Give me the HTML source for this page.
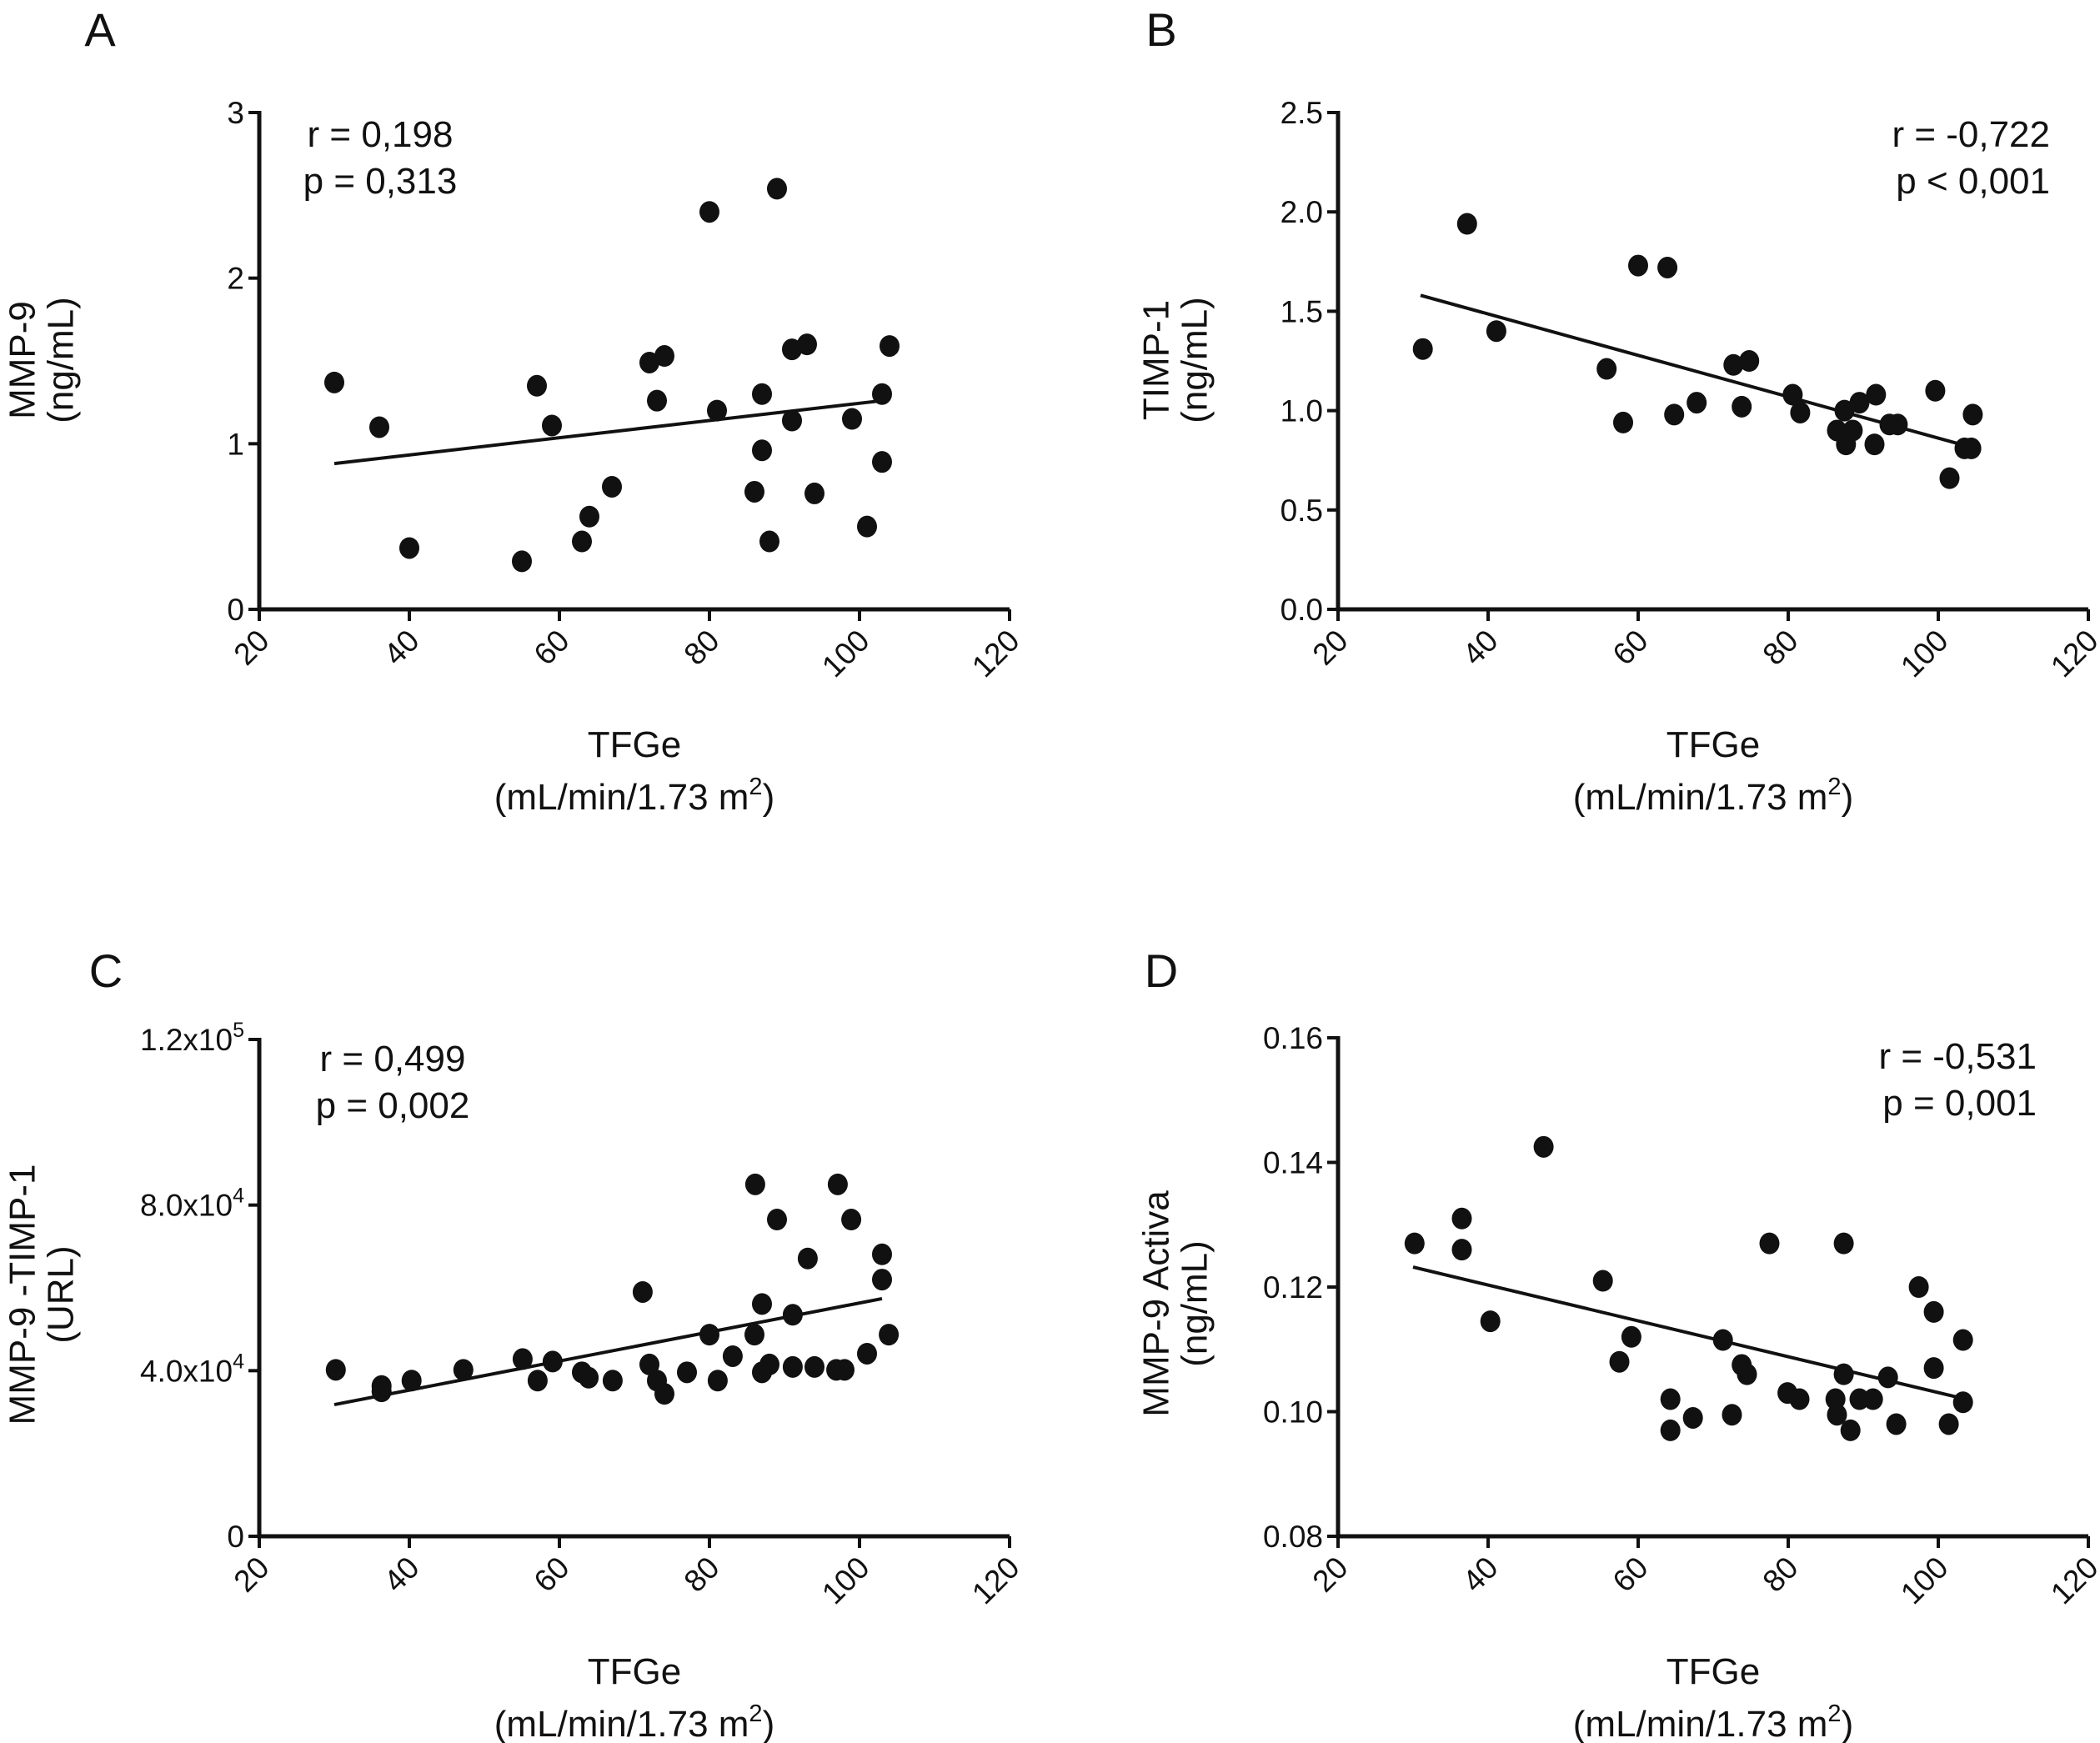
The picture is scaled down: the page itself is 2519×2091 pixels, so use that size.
<!DOCTYPE html>
<html><head><meta charset="utf-8"><style>
html,body{margin:0;padding:0;background:#fff;}
svg{display:block;font-family:"Liberation Sans",sans-serif;}
</style></head><body>
<svg id="fig" width="2519" height="2091" viewBox="0 0 2519 2091"></svg>
<script>
const xA=[30,36,40,55,57,59,63,64,67,72,74,73,80,81,87,87,86,88,89,91,93,91,94,99,101,103,103,104];
const yA=[1.37,1.1,0.37,0.29,1.35,1.11,0.41,0.56,0.74,1.49,1.53,1.26,2.4,1.2,1.3,0.96,0.71,0.41,2.54,1.57,1.6,1.14,0.7,1.15,0.5,1.3,0.89,1.59];
const lineA=[[30,0.88],[103,1.26]];
const xB=[31.3,37.2,41.1,55.8,58,60,63.9,64.8,67.8,72.7,74.8,73.8,80.6,81.6,86.5,87.7,87.5,88.6,89.5,91.7,91.5,93.5,94.6,99.6,101.5,103.5,104.4,104.6];
const yB=[1.31,1.94,1.40,1.21,0.94,1.73,1.72,0.98,1.04,1.23,1.25,1.02,1.08,0.99,0.9,0.83,1.0,0.9,1.04,1.08,0.83,0.93,0.93,1.1,0.66,0.81,0.81,0.98];
const lineB=[[31,1.58],[104,0.82]];
const xC=[30.2,36.3,36.3,40.3,47.2,55.1,57.1,59.1,63,63.9,67.1,71.1,72,73,74,77,80,81.1,83.1,86,86.1,87,87,88,89,91.1,91.1,93.1,94,96.9,97.1,98,98.9,101,103,103,103.9];
const yC=[4.02,3.63,3.5,3.76,4.02,4.28,3.76,4.22,3.96,3.83,3.76,5.9,4.15,3.76,3.44,3.96,4.87,3.76,4.35,4.87,8.5,5.61,3.96,4.15,7.65,5.35,4.09,6.71,4.09,4.02,8.5,4.02,7.65,4.41,6.81,6.2,4.87];
const lineC=[[30,3.18],[103,5.74]];
const xD=[30.2,36.5,36.5,40.3,47.4,55.3,59.1,57.5,64.3,64.3,67.3,71.3,72.5,73.8,74.5,77.5,79.9,81.5,86.3,86.5,87.4,87.4,88.3,89.5,91.3,93.3,94.4,97.4,99.4,99.4,101.4,103.3,103.3];
const yD=[0.127,0.131,0.126,0.1145,0.1425,0.121,0.112,0.108,0.097,0.102,0.099,0.1115,0.0995,0.1075,0.106,0.127,0.103,0.102,0.102,0.0995,0.127,0.106,0.097,0.102,0.102,0.1055,0.098,0.120,0.107,0.116,0.098,0.1115,0.1015];
const lineD=[[30,0.1232],[103,0.1022]];
const xTicks=[20,40,60,80,100,120];

const NS="http://www.w3.org/2000/svg";
const svg=document.getElementById('fig');
function el(tag,attrs,parent,txt){const e=document.createElementNS(NS,tag);for(const k in attrs)e.setAttribute(k,attrs[k]);if(txt!==undefined)e.textContent=txt;(parent||svg).appendChild(e);return e;}

function panel(cfg){
  const g=el('g',{});
  
  
  const sx=v=>cfg.x0+(v-20)/100*(cfg.x1-cfg.x0);
  const sy=v=>cfg.yb+(v-cfg.ymin)/(cfg.ymax-cfg.ymin)*(cfg.yt-cfg.yb);
  const ax=el('path',{d:`M${cfg.x0} ${cfg.yt-2}V${cfg.yb}H${cfg.x1}`,stroke:'#111','stroke-width':5,fill:'none'},g);
  
  
  cfg.yTicks.forEach((t,i)=>{
    const y=sy(t);
    el('line',{x1:cfg.x0-13,x2:cfg.x0,y1:y,y2:y,stroke:'#111','stroke-width':4},g);
    const tx=el('text',{x:cfg.x0-18,y:y+13,'text-anchor':'end','font-size':37,fill:'#111'},g);
    
    
    const lab=cfg.yLabels[i];
    if(Array.isArray(lab)){tx.textContent=lab[0];el('tspan',{'font-size':25,dy:-16},tx,lab[1]);}
    else tx.textContent=lab;
  });
  xTicks.forEach(t=>{
    const x=sx(t);
    el('line',{x1:x,x2:x,y1:cfg.yb,y2:cfg.yb+14,stroke:'#111','stroke-width':4},g);
    const tx=el('text',{x:x+14,y:cfg.yb+40,'text-anchor':'end','font-size':37,fill:'#111',transform:`rotate(-45 ${x+14} ${cfg.yb+40})`},g,String(t));
    
    
  });
  const rl=el('line',{x1:sx(cfg.line[0][0]),y1:sy(cfg.line[0][1]),x2:sx(cfg.line[1][0]),y2:sy(cfg.line[1][1]),stroke:'#111','stroke-width':4},g);
  
  
  cfg.xs.forEach((v,i)=>{
    const c=el('ellipse',{cx:sx(v),cy:sy(cfg.ys[i]),rx:12,ry:13,fill:'#111'},g);
    
    
  });
  const xt=(cfg.x0+cfg.x1)/2;
  const t1=el('text',{x:xt,y:cfg.yb+177,'text-anchor':'middle','font-size':44,fill:'#111'},g,'TFGe');
  
  
  const t2=el('text',{x:xt,y:cfg.yb+240,'text-anchor':'middle','font-size':44,fill:'#111'},g,'(mL/min/1.73 m');
  el('tspan',{'font-size':29,dy:-18},t2,'2');
  el('tspan',{dy:18},t2,')');
  
  
  const yc=cfg.ytc;
  cfg.yTitle.forEach((s,i)=>{
    const x=cfg.ytx+i*46;
    const t=el('text',{x:x,y:yc,'text-anchor':'middle','font-size':44,fill:'#111','dominant-baseline':'central',transform:`rotate(-90 ${x} ${yc})`},g,s);
    
    
  });
  cfg.stats.forEach((s,i)=>{
    const t=el('text',{x:cfg.stx,y:cfg.sty+i*56,'text-anchor':cfg.sta,'font-size':44,fill:'#111'},g,s);
    
    
  });
  const L=el('text',{x:cfg.lx,y:cfg.ly,'text-anchor':'middle','font-size':56,fill:'#111'},g,cfg.letter);
  
  
}

panel({name:'panel-a',x0:311,x1:1211,yb:731,yt:135,ymin:0,ymax:3,yTicks:[0,1,2,3],yLabels:['0','1','2','3'],
  xs:xA,ys:yA,line:lineA,yTitle:['MMP-9','(ng/mL)'],ytx:27,ytc:432,stats:['r = 0,198','p = 0,313'],stx:456,sty:176,sta:'middle',letter:'A',lx:120,ly:55});
panel({name:'panel-b',x0:1605,x1:2505,yb:731,yt:135,ymin:0,ymax:2.5,yTicks:[0,0.5,1,1.5,2,2.5],yLabels:['0.0','0.5','1.0','1.5','2.0','2.5'],
  xs:xB,ys:yB,line:lineB,yTitle:['TIMP-1','(ng/mL)'],ytx:1387,ytc:432,stats:['r = -0,722','p < 0,001'],stx:2459,sty:176,sta:'end',letter:'B',lx:1393,ly:55});
panel({name:'panel-c',x0:311,x1:1211,yb:1843,yt:1247,ymin:0,ymax:12,yTicks:[0,4,8,12],yLabels:['0',['4.0x10','4'],['8.0x10','4'],['1.2x10','5']],
  xs:xC,ys:yC,line:lineC,yTitle:['MMP-9 -TIMP-1','(URL)'],ytx:27,ytc:1553,stats:['r = 0,499','p = 0,002'],stx:471,sty:1285,sta:'middle',letter:'C',lx:127,ly:1184});
panel({name:'panel-d',x0:1605,x1:2505,yb:1843,yt:1245,ymin:0.08,ymax:0.16,yTicks:[0.08,0.10,0.12,0.14,0.16],yLabels:['0.08','0.10','0.12','0.14','0.16'],
  xs:xD,ys:yD,line:lineD,yTitle:['MMP-9 Activa','(ng/mL)'],ytx:1387,ytc:1564,stats:['r = -0,531','p = 0,001'],stx:2443,sty:1282,sta:'end',letter:'D',lx:1393,ly:1184});
</script>
</body></html>
